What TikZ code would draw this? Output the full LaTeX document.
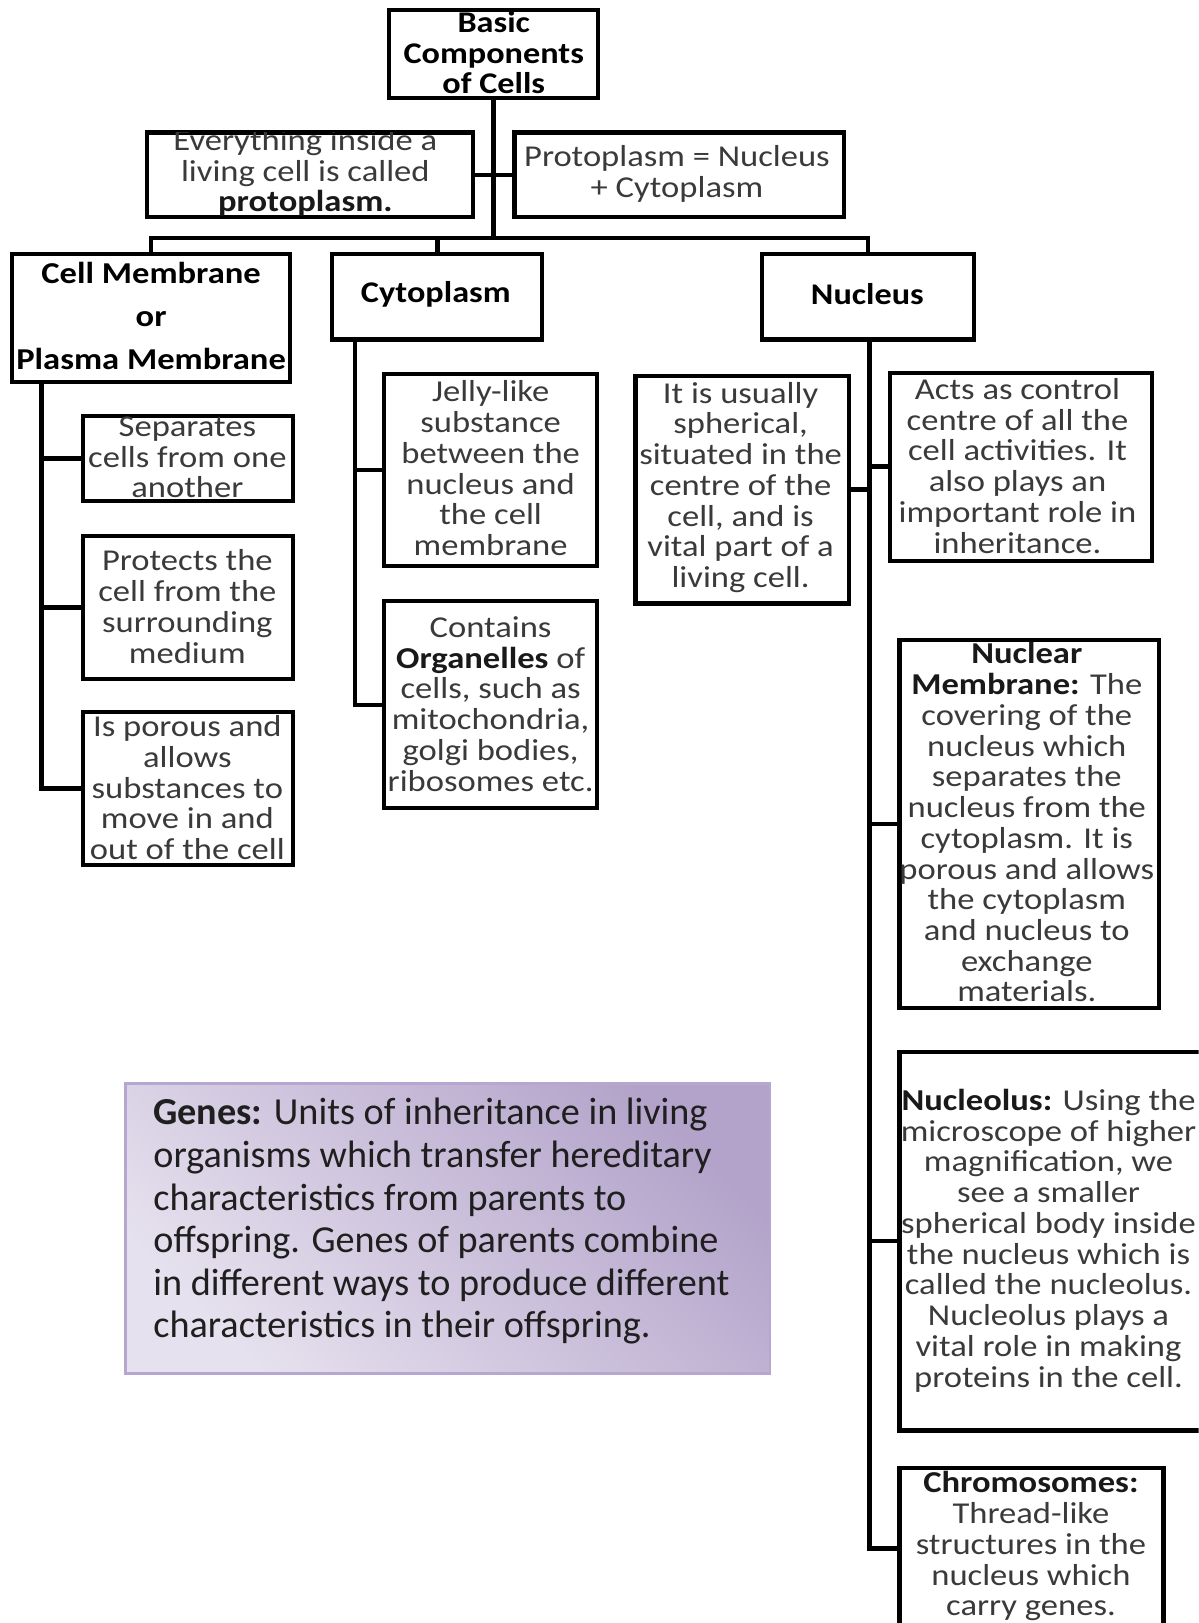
\documentclass[tikz,border=0pt]{standalone}
\usepackage{fontspec}
\setmainfont{Carlito}
\newfontfamily\widefont[FakeStretch=1.14]{Carlito}
\definecolor{txt}{HTML}{3A3A3A}
\definecolor{gL}{HTML}{E6E1EE}
\definecolor{gD}{HTML}{B3A3CA}
\definecolor{gB}{HTML}{B5A7CF}
\newcommand\tightls{\lineskiplimit=-100pt\relax}
\newcommand\boxtxt[4]{%
  \begin{scope}
    \clip ([xshift=2pt,yshift=-2pt]#1.north west) rectangle ([xshift=-2pt,yshift=2pt]#1.south east);
    \node[#3] (#1t) at #2 {#4};
  \end{scope}}
\newcommand\bd[1]{\textbf{\color{black!90}#1}}
\begin{document}
\begin{tikzpicture}[x=1pt,y=-1pt,
  box/.style={draw=black, line width=4pt, rectangle, inner sep=0pt},
  conn/.style={draw=black, line width=4.5pt, line join=miter, line cap=rect},
  tx/.style={align=center, inner sep=0pt, text=txt,
    font=\widefont\fontsize{29.3}{29.7}\selectfont\tightls},
  hd/.style={align=center, inner sep=0pt, text=black,
    font=\widefont\fontsize{29}{29.5}\selectfont\bfseries\tightls},
  hdw/.style={align=center, inner sep=0pt, text=black,
    font=\widefont\fontsize{29.3}{41.5}\selectfont\bfseries\tightls},
  genesbox/.style={rectangle, inner sep=0pt, top color=gD, bottom color=gL,
    shading angle=-45, draw=gB, line width=2.5pt},
  genestx/.style={align=left, inner sep=0pt, text=black!88, anchor=west,
    font=\fontsize{36.9}{41.2}\selectfont\tightls}]
\path[use as bounding box] (0,0) rectangle (1158,1568);
\fill[white] (0,0) rectangle (1158,1568);
\clip (0,0) rectangle (1158,1568);

% boxes
\node[box, minimum width=202pt, minimum height=85pt] (top) at (477,52.5) {};
\node[box, minimum width=315pt, minimum height=82pt] (every) at (299.5,169) {};
\node[box, minimum width=318pt, minimum height=82pt] (proto) at (656,169) {};
\node[box, minimum width=268pt, minimum height=124pt] (cellm) at (146,307) {};
\node[box, minimum width=203pt, minimum height=83pt] (cyto) at (422.5,286.5) {};
\node[box, minimum width=205pt, minimum height=83pt] (nucl) at (838.5,286.5) {};
\node[box, minimum width=203pt, minimum height=82pt] (sep) at (181.5,443) {};
\node[box, minimum width=203pt, minimum height=138pt] (prot) at (181.5,587) {};
\node[box, minimum width=203pt, minimum height=148pt] (poro) at (181.5,762) {};
\node[box, minimum width=206pt, minimum height=186pt] (jelly) at (474,454) {};
\node[box, minimum width=206pt, minimum height=200pt] (cont) at (474,681) {};
\node[box, minimum width=206pt, minimum height=220pt] (usual) at (717,473) {};
\node[box, minimum width=253pt, minimum height=182pt] (acts) at (986.5,451) {};
\node[box, minimum width=251pt, minimum height=356pt] (nmem) at (994.5,796) {};
\node[box, minimum width=306pt, minimum height=366pt] (nucleolus) at (1022,1199) {};
\node[box, minimum width=255pt, minimum height=156pt] (chrom) at (996.5,1496) {};
\node[genesbox, minimum width=623pt, minimum height=280pt] (genes) at (432.5,1187) {};

% texts
\boxtxt{top}{(477,51)}{hd}{Basic\\Components\\of Cells}
\boxtxt{every}{(295,168)}{tx}{Everything inside a\\living cell is called\\\underline{\bd{protoplasm.}}}
\boxtxt{proto}{(654,168)}{tx}{Protoplasm = Nucleus\\+ Cytoplasm}
\boxtxt{cellm}{(146,305)}{hdw}{Cell Membrane\\or\\Plasma Membrane}
\boxtxt{cyto}{(421,284)}{hd}{Cytoplasm}
\boxtxt{nucl}{(838,284)}{hd}{Nucleus}
\boxtxt{sep}{(181,442)}{tx}{Separates\\cells from one\\another}
\boxtxt{prot}{(181,586)}{tx}{Protects the\\cell from the\\surrounding\\medium}
\boxtxt{poro}{(181,761)}{tx}{Is porous and\\allows\\substances to\\move in and\\out of the cell}
\boxtxt{jelly}{(474,452.5)}{tx}{Jelly-like\\substance\\between the\\nucleus and\\the cell\\membrane}
\boxtxt{cont}{(474,680)}{tx}{Contains\\\bd{Organelles} of\\cells, such as\\mitochondria,\\golgi bodies,\\ribosomes etc.}
\boxtxt{usual}{(715.5,471)}{tx}{It is usually\\spherical,\\situated in the\\centre of the\\cell, and is\\vital part of a\\living cell.}
\boxtxt{acts}{(983,450)}{tx}{Acts as control\\centre of all the\\cell activities. It\\also plays an\\important role in\\inheritance.}
\boxtxt{nmem}{(992,794.5)}{tx}{\bd{Nuclear}\\\bd{Membrane:} The\\covering of the\\nucleus which\\separates the\\nucleus from the\\cytoplasm. It is\\porous and allows\\the cytoplasm\\and nucleus to\\exchange\\materials.}
\boxtxt{nucleolus}{(1013,1198.5)}{tx}{\bd{Nucleolus:} Using the\\microscope of higher\\magnification, we\\see a smaller\\spherical body inside\\the nucleus which is\\called the nucleolus.\\Nucleolus plays a\\vital role in making\\proteins in the cell.}
\boxtxt{chrom}{(996,1494)}{tx}{\bd{Chromosomes:}\\Thread-like\\structures in the\\nucleus which\\carry genes.}
\node[genestx] (genest) at (148,1180) {\textbf{Genes:} Units of inheritance in living\\organisms which transfer hereditary\\characteristics from parents to\\offspring. Genes of parents combine\\in different ways to produce different\\characteristics in their offspring.};

% connectors
\coordinate (bus) at (477,230);
\draw[conn] (top.south) -- (bus);
\draw[conn] (every.east) -- (every.east -| bus);
\draw[conn] (proto.west) -- (proto.west -| bus);
\draw[conn] (cellm.north) |- (bus) -| (nucl.north);
\draw[conn] (cyto.north) -- (cyto.north |- bus);

\coordinate (cmsp) at (40,369);
\draw[conn] (cmsp) |- (poro.west);
\draw[conn] (cmsp |- sep.west) -- (sep.west);
\draw[conn] (cmsp |- prot.west) -- (prot.west);

\coordinate (cysp) at (343,328);
\draw[conn] (cysp) |- (cont.west);
\draw[conn] (cysp |- jelly.west) -- (jelly.west);

\coordinate (nusp) at (840,328);
\draw[conn] (nusp) |- (chrom.west);
\draw[conn] (usual.east) -- (usual.east -| nusp);
\draw[conn] (nusp |- acts.west) -- (acts.west);
\draw[conn] (nusp |- nmem.west) -- (nmem.west);
\draw[conn] (nusp |- nucleolus.west) -- (nucleolus.west);
\end{tikzpicture}
\end{document}
